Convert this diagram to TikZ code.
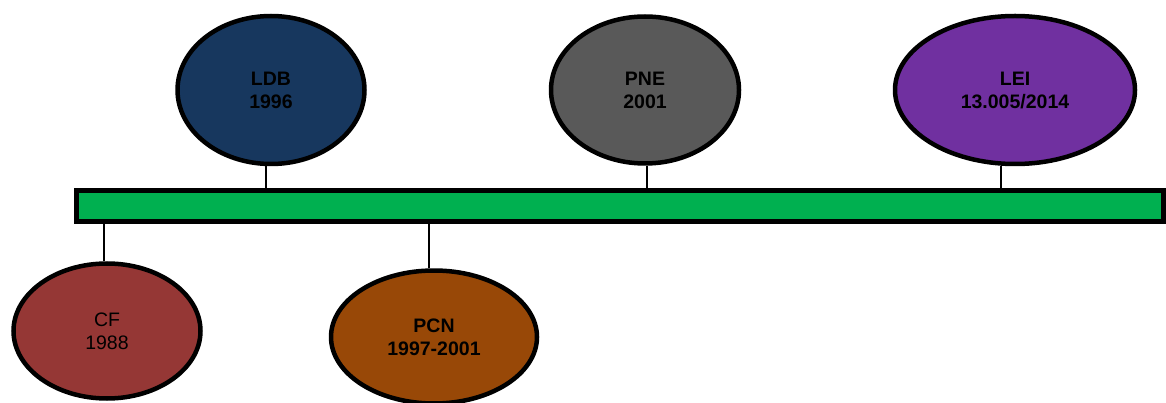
\documentclass[tikz,border=0pt]{standalone}
\usepackage{fontspec}
\setmainfont{Liberation Sans}
\usetikzlibrary{shapes.geometric}
\definecolor{barGreen}{HTML}{00B050}
\definecolor{navyFill}{HTML}{17375E}
\definecolor{greyFill}{HTML}{595959}
\definecolor{purpleFill}{HTML}{7030A0}
\definecolor{redFill}{HTML}{953735}
\definecolor{brownFill}{HTML}{984807}
\tikzset{
  event/.style={ellipse, draw=black, line width=4.5pt, inner sep=0pt,
    align=center, text=black, font=\fontsize{19.5}{23}\selectfont},
  boldevent/.style={event, font=\fontsize{19.5}{23}\selectfont\bfseries},
  link/.style={draw=black, line width=1.5pt},
  timebar/.style={rectangle, draw=black, line width=4.5pt, fill=barGreen, inner sep=0pt}
}
\begin{document}
\begin{tikzpicture}[x=1pt, y=-1pt]
  \useasboundingbox (0,0) rectangle (1166,403);
  % ticks joining events to the axis, drawn first so the outlines sit on top
  \coordinate (tLDB) at (266,0);
  \coordinate (tPNE) at (647,0);
  \coordinate (tLEI) at (1001,0);
  \coordinate (tCF)  at (104,0);
  \coordinate (tPCN) at (429,0);
  % time axis
  \node[timebar, minimum width=1087pt, minimum height=31pt] (bar) at (620,206) {};
  % events above the axis
  \node[boldevent, fill=navyFill, minimum width=187pt, minimum height=148pt] (ldb) at (271,90) {LDB\\1996};
  \node[boldevent, fill=greyFill, minimum width=188pt, minimum height=147pt] (pne) at (645,90) {PNE\\2001};
  \node[boldevent, fill=purpleFill, minimum width=240pt, minimum height=148pt] (lei) at (1015,90) {LEI\\13.005/2014};
  % events below the axis
  \node[event, fill=redFill, minimum width=187pt, minimum height=135pt] (cf) at (107,331) {CF\\1988};
  \node[boldevent, fill=brownFill, minimum width=206pt, minimum height=133pt] (pcn) at (434,337) {PCN\\1997-2001};
  % connectors
  \draw[link] (tLDB |- ldb.south) -- (tLDB |- bar.north);
  \draw[link] (tPNE |- pne.south) -- (tPNE |- bar.north);
  \draw[link] (tLEI |- lei.south) -- (tLEI |- bar.north);
  \draw[link] (tCF |- cf.north) -- (tCF |- bar.south);
  \draw[link] (tPCN |- pcn.north) -- (tPCN |- bar.south);
\end{tikzpicture}
\end{document}
